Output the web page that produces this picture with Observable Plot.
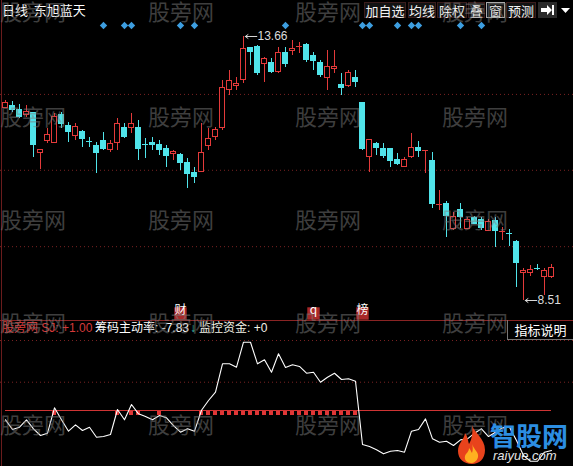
<!DOCTYPE html>
<html>
<head>
<meta charset="utf-8">
<script src="https://cdn.jsdelivr.net/npm/d3@7"></script>
<script src="https://cdn.jsdelivr.net/npm/@observablehq/plot@0.6"></script>
<style>
  html, body { margin: 0; padding: 0; background: #000; }
  #chart { position: relative; width: 573px; height: 466px; background: #000; overflow: hidden;
           font-family: "Liberation Sans", "Noto Sans CJK SC", sans-serif; color: #fff; }
  #chart .layer { position: absolute; left: 0; }
  .wm { position: absolute; font-family: "Noto Sans CJK SC", sans-serif; font-size: 22px; line-height: 22px;
        color: rgba(125,125,125,0.5); pointer-events: none; white-space: nowrap; letter-spacing: 0px; }
  .btn { position: absolute; top: 2px; height: 16px; line-height: 16px; font-size: 13px; color: #f2f2f2;
         font-family: "Noto Sans CJK SC", sans-serif; text-align: center; background: #121212;
         border: 1px solid #3a1c1c; box-sizing: border-box; }
  .hdr { position: absolute; top: 320px; font-size: 12px; line-height: 17px; white-space: pre; }
</style>
</head>
<body>
<div id="chart"></div>
<script>
// 东旭蓝天 daily candles (price, yuan)
const stockName = "东旭蓝天";
const periodName = "日线";
const toolButtons = ["加自选", "均线", "除权", "叠", "窗", "预测"];

const opens = [12.27,12.31,12.22,12.12,12.16,11.38,11.63,11.59,12.12,11.92,
  11.71,11.79,11.63,11.53,11.63,11.44,11.59,11.88,11.88,11.87,
  11.57,11.59,11.55,11.47,11.36,11.34,11.20,10.99,11.01,11.53,
  11.69,11.88,12.61,12.70,12.82,13.43,13.45,13.13,13.15,12.96,
  13.33,13.37,13.45,13.50,13.27,13.15,12.86,13.02,12.72,12.70,
  12.86,12.37,11.30,11.57,11.47,11.46,11.26,11.12,11.30,11.49,
  11.42,11.24,10.38,10.40,9.91,10.28,9.91,10.11,10.09,9.87,
  10.07,9.86,9.82,9.66,9.04,9.04,9.15,8.96,8.96];
const highs = [12.41,12.39,12.33,12.31,12.18,11.44,11.87,12.16,12.18,11.98,
  11.96,11.83,11.69,11.59,11.79,11.63,12.06,11.96,12.16,12.02,
  11.67,11.69,11.63,11.53,11.44,11.38,11.28,11.10,11.96,11.87,
  11.88,12.80,13.00,12.86,13.66,13.45,13.48,13.25,13.23,13.45,
  13.45,13.58,13.54,13.52,13.35,13.19,13.39,13.39,12.94,13.00,
  13.00,12.37,11.65,11.59,11.57,11.47,11.38,11.30,11.77,11.61,
  11.44,11.40,10.66,10.44,10.23,10.40,10.13,10.15,10.13,10.09,
  10.13,9.93,9.89,9.68,9.13,9.19,9.21,9.13,9.21];
const lows = [12.26,12.18,12.06,12.08,11.30,11.07,11.57,11.57,11.87,11.59,
  11.63,11.49,11.49,10.99,11.44,11.40,11.44,11.67,11.77,11.24,
  11.28,11.44,11.34,11.10,11.24,11.05,10.69,10.79,11.01,11.44,
  11.63,11.83,12.51,12.61,12.74,13.09,12.90,12.76,12.94,12.94,
  13.06,13.29,13.33,13.15,13.00,12.86,12.61,12.94,12.51,12.66,
  12.66,11.44,11.01,11.34,11.28,11.10,11.14,11.10,11.28,11.30,
  10.99,10.30,10.27,9.74,9.87,9.91,9.89,9.99,9.87,9.86,
  9.54,9.68,9.56,8.76,8.51,8.98,9.09,8.61,8.94];
const closes = [12.37,12.22,12.08,12.18,11.55,11.44,11.73,12.08,11.96,11.79,
  11.90,11.67,11.62,11.38,11.47,11.57,11.96,11.69,11.96,11.47,
  11.56,11.55,11.44,11.32,11.40,11.20,10.97,10.91,11.38,11.67,
  11.83,12.65,12.80,12.74,13.41,13.35,12.94,13.23,12.96,13.33,
  13.13,13.41,13.46,13.21,13.19,12.90,13.07,13.06,12.66,12.94,
  12.78,11.47,11.65,11.49,11.32,11.24,11.18,11.26,11.49,11.42,
  11.44,10.40,10.38,10.15,10.13,10.13,10.09,10.01,9.93,10.05,
  9.86,9.86,9.81,9.25,9.09,9.11,9.14,9.09,9.15];

// signal diamonds along the top, by day index
const signalDays = [14, 17, 18, 25, 27, 40, 51, 52, 56, 58, 59, 65, 68];
// event tags under the candles
const eventDays = [25, 44, 51];
const eventLabels = ["财", "q", "榜"];

// 筹码主动率 indicator, one value per day
const rateValues = [-1.82,-3.72,-3.27,-1.82,-3.58,-4.89,-4.44,0.53,-1.82,-4.05,
  -2.80,-3.92,-3.27,-5.23,-5.09,-4.70,0.20,-1.82,1.17,-0.65,
  -1.17,-1.82,-0.98,-1.43,-2.94,-4.25,-3.58,-4.05,0.05,1.96,
  3.58,9.14,9.14,8.48,13.37,13.37,9.14,9.93,7.50,11.10,
  8.42,8.95,8.62,7.30,7.50,5.54,6.52,7.30,6.07,6.21,
  5.74,-6.66,-7.05,-7.69,-8.48,-7.97,-7.83,-8.16,-4.05,-3.72,
  -1.63,-5.54,-6.21,-6.01,-6.85,-5.74,-5.54,-4.44,-3.58,-5.09,
  -4.25,-3.39,-3.27,-5.87,-8.81,-9.93,-9.93,-8.16,-7.83];
// SJ signal days (drawn as red blocks on the SJ level)
const sjSignals = [7, 16, 18, 19, 22, 28, 29, 30, 31, 32, 33, 34, 35, 36, 37, 38, 39,
  40, 41, 42, 43, 44, 45, 46, 47, 48, 49, 50];
const sjLevel = 0;
const sjValue = 1.00;
const fundValue = 0;

// grid levels
const priceGrid = [12.53, 11.05, 9.56];
const rateGrid = [13.70, 5.54];

const W = 573;
const RED = "#e43a3a", CYAN = "#50e4ea";

const candles = opens.map((o, i) => {
  const c = closes[i];
  const up = c >= o;
  return { i, open: o, high: highs[i], low: lows[i], close: c, up,
           color: up ? RED : CYAN, top: Math.max(o, c), bottom: Math.min(o, c) };
});
const bodies = candles.filter(d => d.top - d.bottom >= 0.03);
const dojis = candles.filter(d => d.top - d.bottom < 0.03);
const hi = d3.greatest(candles, d => d.high);
const lo = d3.least(candles, d => d.low);

const xScale = { type: "linear", domain: [0, opens.length - 1], range: [5, 551], axis: null };

const upper = Plot.plot({
  width: W, height: 320, margin: 0,
  x: xScale,
  y: { domain: [8.12, 14.362], range: [320, 0], axis: null },
  color: { type: "identity" },
  style: { background: "transparent", overflow: "visible" },
  marks: [
    Plot.ruleY(priceGrid, { stroke: "#7a2222", strokeDasharray: "1,3" }),
    Plot.ruleX(candles, { x: "i", y1: "low", y2: "high", stroke: "color", shapeRendering: "crispEdges" }),
    Plot.rect(bodies, { x1: d => d.i - 0.3, x2: d => d.i + 0.3, y1: "bottom", y2: "top",
      fill: d => d.up ? "#000" : d.color, stroke: "color", shapeRendering: "crispEdges" }),
    Plot.ruleY(dojis, { y: "close", x1: d => d.i - 0.38, x2: d => d.i + 0.38, stroke: "color", shapeRendering: "crispEdges" }),
    Plot.dot(signalDays, { x: d => d, frameAnchor: "top", dy: 25, symbol: "diamond2", r: 3.3, fill: "#3d9ee0" }),
    Plot.arrow([hi], { x1: d => d.i + 1.9, x2: d => d.i + 0.25, y1: "high", y2: "high",
      stroke: "#d8d8d8", strokeWidth: 1, headLength: 5, headAngle: 70 }),
    Plot.text([hi], { x: d => d.i + 2, y: "high", text: d => d.high.toFixed(2), textAnchor: "start",
      fill: "#dcdcdc", fontSize: 12, fontFamily: "Liberation Sans" }),
    Plot.arrow([lo], { x1: d => d.i + 1.9, x2: d => d.i + 0.25, y1: "low", y2: "low",
      stroke: "#d8d8d8", strokeWidth: 1, headLength: 5, headAngle: 70 }),
    Plot.text([lo], { x: d => d.i + 2, y: "low", text: d => d.low.toFixed(2), textAnchor: "start",
      fill: "#dcdcdc", fontSize: 12, fontFamily: "Liberation Sans" }),
    Plot.dot(eventDays, { x: d => d, frameAnchor: "bottom", dy: -7, symbol: "square", r: 7, fill: "#a82828" }),
    Plot.text(eventDays, { x: d => d, frameAnchor: "bottom", dy: -7, text: (d, i) => eventLabels[i],
      fill: "#fff", fontSize: 12, fontFamily: "Noto Sans CJK SC" })
  ]
});

const lower = Plot.plot({
  width: W, height: 146, margin: 0,
  x: xScale,
  y: { domain: [-10.96, 17.62], range: [146, 0], axis: null },
  style: { background: "transparent", overflow: "visible" },
  marks: [
    Plot.ruleY(rateGrid, { stroke: "#7a2222", strokeDasharray: "1,3" }),
    Plot.rect(sjSignals, { x1: d => d - 0.3, x2: d => d + 0.3, y1: sjLevel, y2: sjLevel - 0.9,
      fill: "#e03636", shapeRendering: "crispEdges" }),
    Plot.ruleY([sjLevel], { x1: 0, x2: opens.length - 1, stroke: "#cf3434", strokeWidth: 1.2 }),
    Plot.line(rateValues, { x: (d, i) => i, y: d => d, stroke: "#fff", strokeWidth: 1.1 })
  ]
});

const root = document.getElementById("chart");
upper.classList.add("layer"); upper.style.top = "0px";
lower.classList.add("layer"); lower.style.top = "320px";
root.appendChild(upper);
root.appendChild(lower);

// panel borders
function line(css) {
  const d = document.createElement("div");
  d.style.cssText = "position:absolute;" + css;
  root.appendChild(d);
}
line("left:1px;top:0;width:1px;height:466px;background:#6a1c1c;");
line("left:0;top:320px;width:573px;height:1px;background:#8a2424;");

// toolbar
const title = document.createElement("div");
title.style.cssText = "position:absolute;left:2px;top:1px;font-size:13px;line-height:18px;font-family:'Noto Sans CJK SC';color:#fff;white-space:pre;";
title.textContent = periodName + "  " + stockName;
root.appendChild(title);

const btnLeft = [364, 408, 437, 468, 486, 506];
const btnWidth = [42, 28, 30, 17, 19, 30];
toolButtons.forEach((t, k) => {
  const b = document.createElement("div");
  b.className = "btn";
  b.style.left = btnLeft[k] + "px";
  b.style.width = btnWidth[k] + "px";
  if (t === "窗") b.style.border = "1px solid #aaaaaa";
  b.textContent = t;
  root.appendChild(b);
});
const jump = document.createElement("div");
jump.style.cssText = "position:absolute;left:538px;top:2px;width:19px;height:16px;background:#2a2a2a;";
jump.innerHTML = '<svg width="19" height="16"><path d="M3 6h6V3l5 5-5 5v-3H3z" fill="#fff"/><rect x="14" y="3" width="2" height="10" fill="#fff"/></svg>';
root.appendChild(jump);
const drop = document.createElement("div");
drop.style.cssText = "position:absolute;left:559px;top:2px;width:13px;height:16px;";
drop.innerHTML = '<svg width="13" height="16"><path d="M2 6h9l-4.5 5z" fill="#fff"/></svg>';
root.appendChild(drop);

// indicator header
const fmt = v => (v >= 0 ? "+" : "") + v.toFixed(2);
const lastRate = rateValues[rateValues.length - 1];
function hdr(left, text, color) {
  const s = document.createElement("div");
  s.className = "hdr";
  s.style.left = left + "px";
  s.style.color = color;
  s.textContent = text;
  root.appendChild(s);
  return s;
}
hdr(2, "股旁网 SJ: " + fmt(sjValue), "#d63a3a");
const rateLabel = hdr(95, "筹码主动率: " + fmt(lastRate), "#ffffff");
const arrowX = 95 + rateLabel.getBoundingClientRect().width + 1;
hdr(arrowX, "↓", "#3cc8b4");
hdr(arrowX + 9, "监控资金: +" + fundValue, "#f2f2e6");

const help = document.createElement("div");
help.style.cssText = "position:absolute;left:507px;top:320px;width:66px;height:20px;box-sizing:border-box;border-left:1px solid #777;border-bottom:1px solid #777;font-family:'Noto Sans CJK SC';font-size:13px;line-height:19px;text-align:center;color:#fff;";
help.textContent = "指标说明";
root.appendChild(help);

// watermarks
const wmRowTop = [-1, 104, 207, 310, 412];
const wmColLeft = [0, 148, 295, 442];
wmRowTop.forEach(t => wmColLeft.forEach(l => {
  const w = document.createElement("div");
  w.className = "wm";
  w.style.left = l + "px";
  w.style.top = t + "px";
  w.textContent = "股旁网";
  root.appendChild(w);
}));

// site badge
const badge = document.createElement("div");
badge.style.cssText = "position:absolute;left:455px;top:422px;width:118px;height:44px;pointer-events:none;";
badge.innerHTML =
  '<svg width="34" height="42" style="position:absolute;left:0;top:2px">' +
  '<path d="M17 1C19 9 30 14 30 26C30 35 24 40 17 40C9 40 3 35 3 27C3 19 9 16 10 9C13 13 13 17 14 20C17 15 18 8 17 1Z" fill="#e8431c"/>' +
  '<path d="M17 20C19 26 24 28 23 33C22 37 19 39 16 39C12 39 9 36 10 32C11 29 14 28 14 24C16 26 16 28 17 29C18 26 18 23 17 20Z" fill="#ffb020"/>' +
  '</svg>' +
  '<div style="position:absolute;left:35px;top:-2px;font-family:\'Noto Sans CJK SC\';font-weight:bold;font-size:26px;line-height:30px;color:#2c8ee2;">智股网</div>' +
  '<div style="position:absolute;left:38px;top:27px;font-family:\'Liberation Sans\';font-style:italic;font-size:13px;line-height:14px;color:#e6e6e6;">raiyue.com</div>';
root.appendChild(badge);
</script>
</body>
</html>
